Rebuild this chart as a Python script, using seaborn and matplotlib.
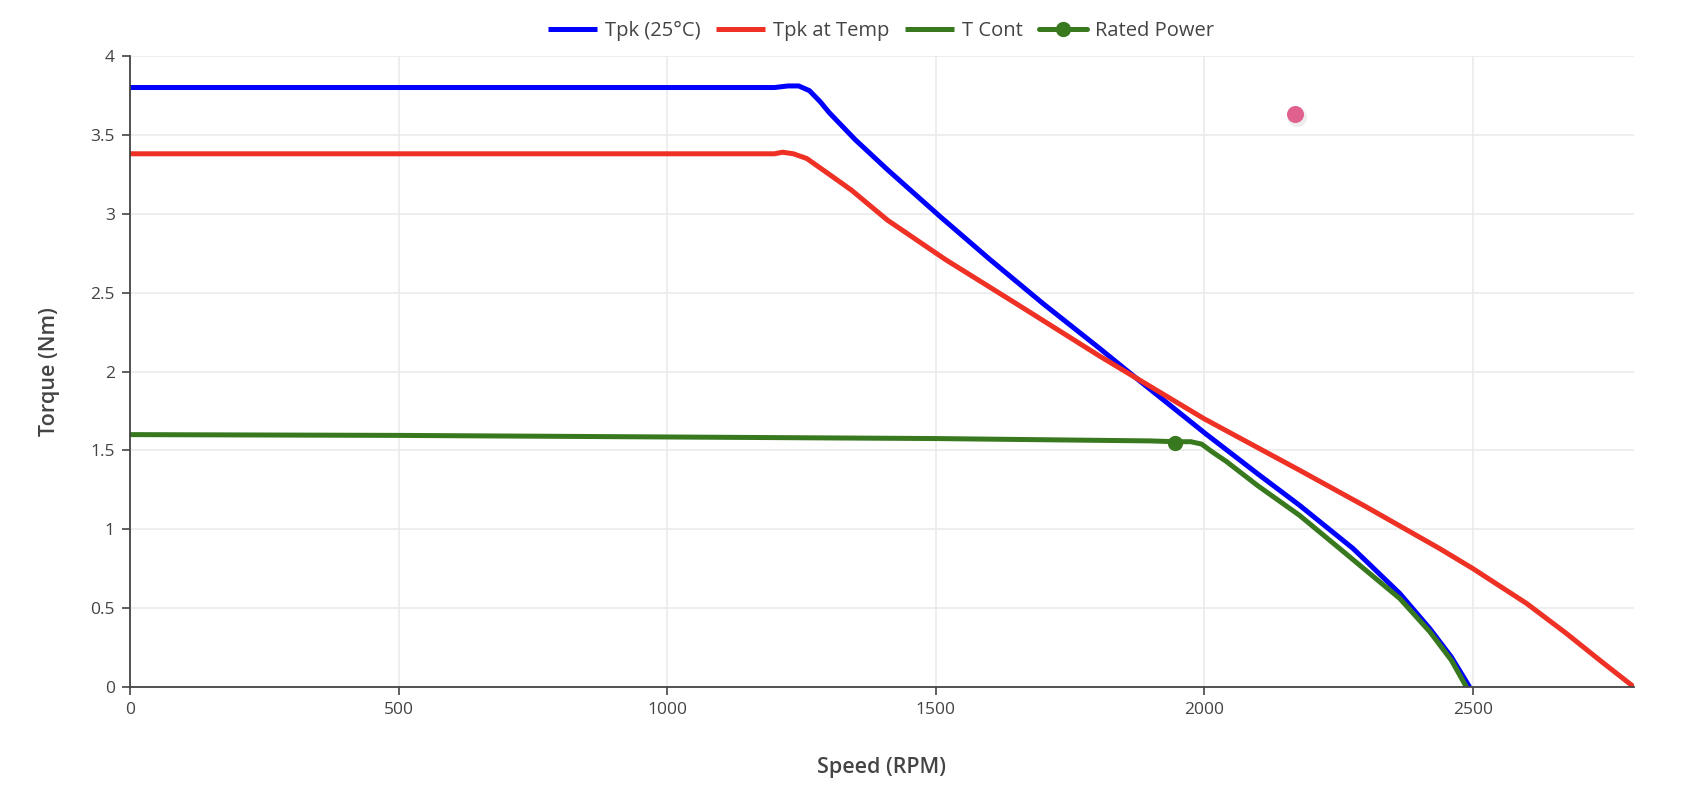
import matplotlib
matplotlib.use("Agg")
import matplotlib.pyplot as plt
import seaborn as sns
import pandas as pd

# values
tpk25_rpm = [0, 300, 600, 900, 1200, 1225, 1245, 1265, 1285, 1302, 1350, 1410, 1509, 1601,
             1700, 1805, 1874, 2002, 2100, 2177, 2277, 2364, 2420, 2460, 2494]
tpk25_nm = [3.80, 3.80, 3.80, 3.80, 3.80, 3.81, 3.81, 3.78, 3.71, 3.64, 3.47, 3.28, 2.98, 2.71,
            2.43, 2.147, 1.956, 1.607, 1.35, 1.153, 0.878, 0.593, 0.37, 0.19, 0.0]

tpktemp_rpm = [0, 400, 800, 1200, 1215, 1235, 1260, 1285, 1310, 1343, 1410, 1518, 1650, 1805,
               2000, 2177, 2300, 2438, 2500, 2600, 2674, 2740, 2800]
tpktemp_nm = [3.38, 3.38, 3.38, 3.38, 3.39, 3.38, 3.35, 3.29, 3.23, 3.15, 2.96, 2.71, 2.43, 2.098,
              1.70, 1.375, 1.145, 0.878, 0.751, 0.53, 0.34, 0.16, 0.0]

tcont_rpm = [0, 500, 1000, 1500, 1900, 1945, 1975, 1995, 2015, 2041, 2100, 2177, 2252,
             2364, 2420, 2460, 2488]
tcont_nm = [1.60, 1.595, 1.585, 1.575, 1.56, 1.555, 1.555, 1.54, 1.49, 1.43, 1.275, 1.089, 0.878,
            0.561, 0.35, 0.17, 0.0]

rated_rpm = [1945]
rated_nm = [1.545]

extra_rpm = [2169]
extra_nm = [3.632]

x_ticks = [0, 500, 1000, 1500, 2000, 2500]
y_ticks = [0, 0.5, 1, 1.5, 2, 2.5, 3, 3.5, 4]
y_labels = ["0", "0.5", "1", "1.5", "2", "2.5", "3", "3.5", "4"]

sns.set_theme(style="white")
plt.rcParams['font.family'] = ['Open Sans', 'DejaVu Sans']

blue = "#0000ff"
red = "#ee3124"
green = "#38791f"
axcol = "#444444"

fig = plt.figure(figsize=(16.88, 7.85), dpi=100)
ax = fig.add_axes([0.0770, 0.1248, 0.891, 0.8039])

lw = 3.6
sns.lineplot(x=tpk25_rpm, y=tpk25_nm, ax=ax, color=blue, lw=lw, label="Tpk (25°C)",
             solid_joinstyle="round", solid_capstyle="butt", estimator=None, sort=False)
sns.lineplot(x=tpktemp_rpm, y=tpktemp_nm, ax=ax, color=red, lw=lw, label="Tpk at Temp",
             solid_joinstyle="round", solid_capstyle="butt", estimator=None, sort=False)
sns.lineplot(x=tcont_rpm, y=tcont_nm, ax=ax, color=green, lw=lw, label="T Cont",
             solid_joinstyle="round", solid_capstyle="butt", estimator=None, sort=False)
sns.lineplot(x=rated_rpm, y=rated_nm, ax=ax, color=green, lw=lw, marker="o", markersize=11,
             markeredgewidth=0, label="Rated Power", estimator=None)

# stray point with soft shadow
ax.scatter([r + 4 for r in extra_rpm], [v - 0.02 for v in extra_nm], s=190,
           color="#dddddd", alpha=0.5, lw=0, zorder=4)
sns.scatterplot(x=extra_rpm, y=extra_nm, ax=ax, color="#e0608e", s=150, linewidth=0,
                legend=False, zorder=5)

ax.set_xlim(0, 2800)
ax.set_ylim(0, 4)
ax.set_xticks(x_ticks)
ax.set_xticklabels([str(t) for t in x_ticks])
ax.set_yticks(y_ticks)
ax.set_yticklabels(y_labels)

ax.grid(True, color="#ebebeb", lw=1.2)
ax.set_axisbelow(True)
for s in ["top", "right"]:
    ax.spines[s].set_visible(False)
for s in ["left", "bottom"]:
    ax.spines[s].set_color(axcol)
    ax.spines[s].set_linewidth(1.3)
ax.tick_params(axis="both", direction="out", length=6, width=1.2, color=axcol,
               labelcolor=axcol, labelsize=12.5, pad=5,
               bottom=True, left=True)

ax.set_xlabel("Speed (RPM)", fontsize=15.5, color=axcol, labelpad=28, fontweight="semibold")
ax.set_ylabel("Torque (Nm)", fontsize=15.5, color=axcol, labelpad=22, fontweight="semibold")

ax.get_legend().remove()
handles, labels = ax.get_legend_handles_labels()
fig.legend(handles, labels, loc="center", bbox_to_anchor=(0.522, 0.960), ncol=4,
           frameon=False, fontsize=14.5, handlelength=2.4, handletextpad=0.4,
           columnspacing=0.8, labelcolor=axcol)

fig.savefig("out.png", dpi=100)
